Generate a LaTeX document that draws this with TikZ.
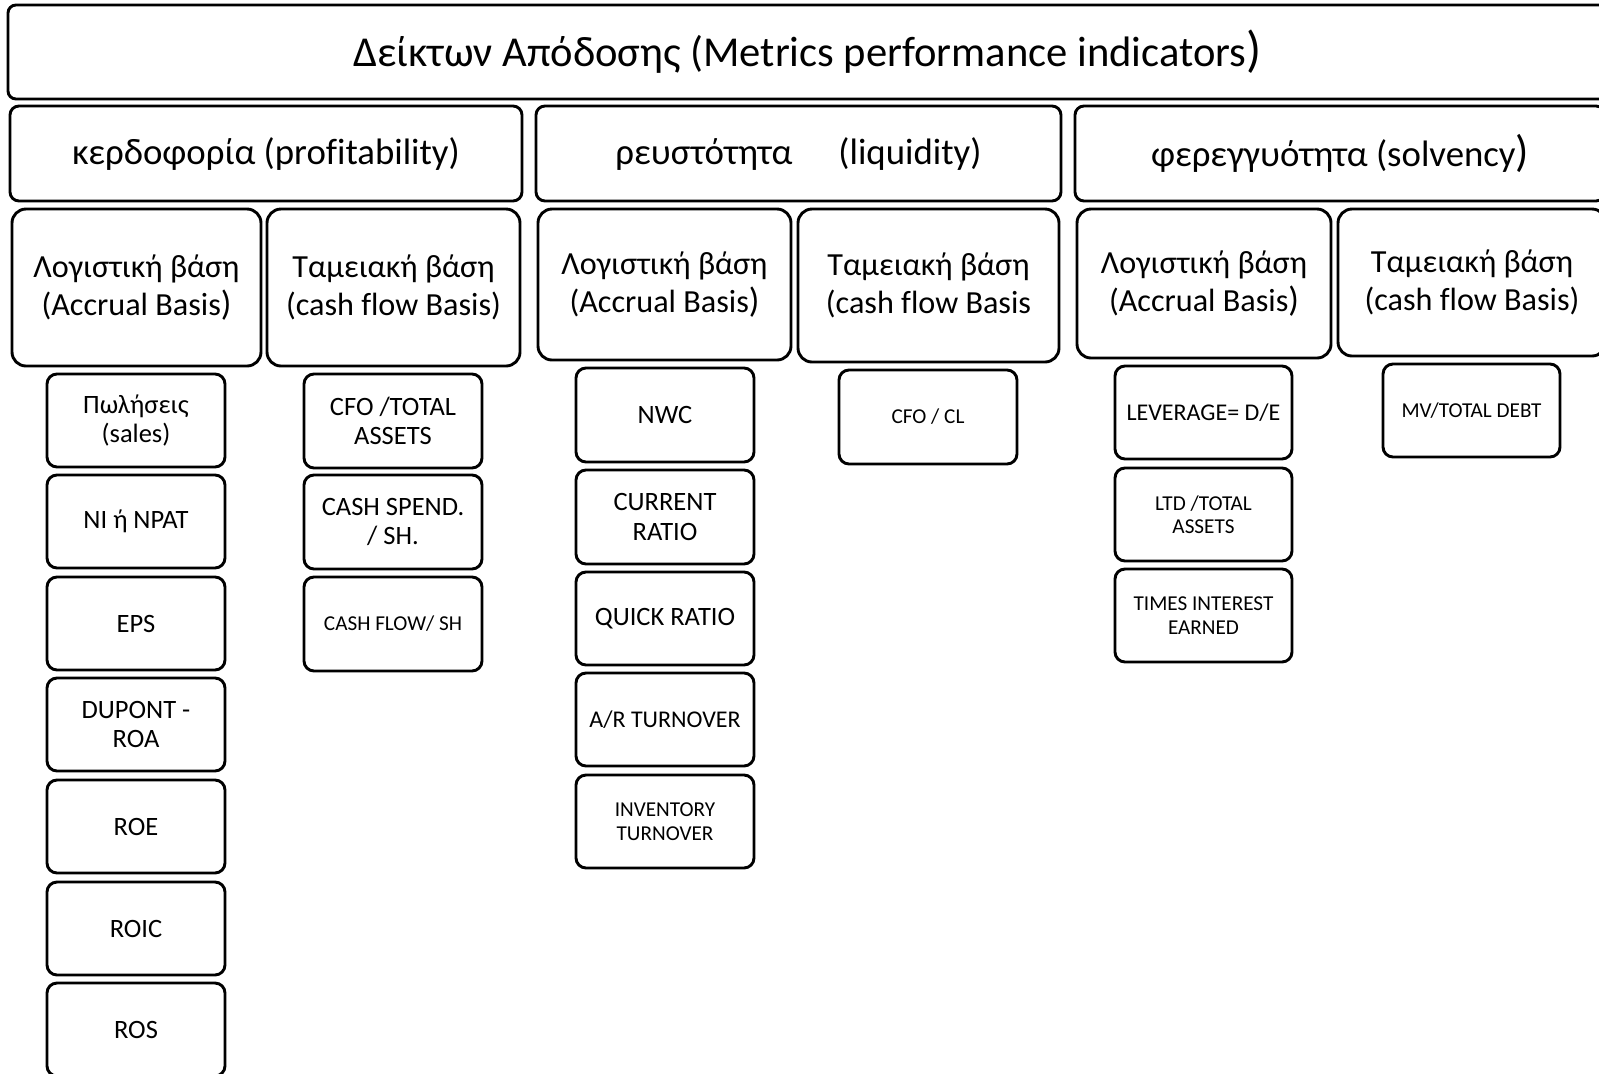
\documentclass[tikz,border=0pt]{standalone}
\usepackage{fontspec}
\setmainfont[Ligatures=NoCommon]{Carlito}
\newcommand\drawbox[7]{%
  \pgfmathsetmacro\bw{(#5-#3)*0.5}%
  \pgfmathsetmacro\bh{(#6-#4)*0.5}%
  \node[#1, minimum width=\bw pt, minimum height=\bh pt] (#2) at ({(#3+#5)/2},{(#4+#6)/2}) {#7};%
}
\newcommand\bigparen[1]{{\fontsize{#1}{#1}\selectfont)}}
\begin{document}
\begin{tikzpicture}[x=0.5pt,y=-0.5pt,
  frame/.style={draw=black, line width=1.45pt, align=center, inner sep=0pt},
  titlebox/.style={frame, rounded corners=4pt, font=\fontsize{21.3}{25}\selectfont},
  headbox/.style={frame, rounded corners=4.5pt, font=\fontsize{18.4}{22}\selectfont},
  subbox/.style={frame, rounded corners=7pt, font=\fontsize{16.1}{18.9}\selectfont},
  leafbox/.style={frame, rounded corners=5pt, font=\fontsize{13.25}{14.8}\selectfont},
  leafmid/.style={frame, rounded corners=5pt, font=\fontsize{12}{13.5}\selectfont},
  leafsmall/.style={frame, rounded corners=5pt, font=\fontsize{10.6}{11.75}\selectfont},
]
\clip (0,0) rectangle (1599,1073);
\fill[white] (0,0) rectangle (1599,1073);

% title
\drawbox{titlebox}{title}{8}{5}{1607}{99}{Δείκτων Απόδοσης (Metrics performance indicators\bigparen{25}}

% headers
\drawbox{headbox}{prof}{10}{106}{522}{201}{κερδοφορία (profitability)}
\drawbox{headbox}{liq}{536}{106}{1061}{201}{ρευστότητα\hspace{23pt}(liquidity)}
\drawbox{headbox}{solv}{1075}{106}{1605}{201}{φερεγγυότητα (solvency\bigparen{22}}

% sub-headers
\drawbox{subbox}{profacc}{12}{209}{261}{366}{Λογιστική βάση\\(Accrual Basis\bigparen{17.5}}
\drawbox{subbox}{profcash}{267}{209}{520}{366}{Ταμειακή βάση\\(cash flow Basis)}
\drawbox{subbox}{liqacc}{538}{209}{791}{360}{Λογιστική βάση\\(Accrual Basis\bigparen{17.5}}
\drawbox{subbox}{liqcash}{798}{209}{1059}{362}{Ταμειακή βάση\\(cash flow Basis}
\drawbox{subbox}{solvacc}{1077}{209}{1331}{358}{Λογιστική βάση\\(Accrual Basis\bigparen{17.5}}
\drawbox{subbox}{solvcash}{1338}{209}{1606}{356}{Ταμειακή βάση\\(cash flow Basis)}

% profitability - accrual
\drawbox{leafbox}{sales}{47}{374}{225}{467}{Πωλήσεις\\(sales)}
\drawbox{leafbox}{ni}{47}{475}{225}{568}{NI ή NPAT}
\drawbox{leafbox}{eps}{47}{577}{225}{670}{EPS}
\drawbox{leafbox}{dupont}{47}{678}{225}{771}{DUPONT -\\ROA}
\drawbox{leafbox}{roe}{47}{780}{225}{873}{ROE}
\drawbox{leafbox}{roic}{47}{882}{225}{975}{ROIC}
\drawbox{leafbox}{ros}{47}{983}{225}{1076}{ROS}

% profitability - cash
\drawbox{leafbox}{cfota}{304}{374}{482}{468}{CFO /TOTAL\\ASSETS}
\drawbox{leafbox}{cashsp}{304}{475}{482}{569}{CASH SPEND.\\/ SH.}
\drawbox{leafsmall}{cfsh}{304}{577}{482}{671}{CASH FLOW/ SH}

% liquidity - accrual
\drawbox{leafbox}{nwc}{576}{368}{754}{462}{NWC}
\drawbox{leafbox}{curr}{576}{470}{754}{564}{CURRENT\\RATIO}
\drawbox{leafbox}{quick}{576}{572}{754}{665}{QUICK RATIO}
\drawbox{leafmid}{ar}{576}{673}{754}{766}{A/R TURNOVER}
\drawbox{leafsmall}{inv}{576}{775}{754}{868}{INVENTORY\\TURNOVER}

% liquidity - cash
\drawbox{leafsmall}{cfocl}{839}{370}{1017}{464}{CFO / CL}

% solvency - accrual
\drawbox{leafmid}{lev}{1115}{366}{1292}{459}{LEVERAGE= D/E}
\drawbox{leafsmall}{ltd}{1115}{468}{1292}{561}{LTD /TOTAL\\ASSETS}
\drawbox{leafsmall}{tie}{1115}{569}{1292}{662}{TIMES INTEREST\\EARNED}

% solvency - cash
\drawbox{leafsmall}{mv}{1383}{364}{1560}{457}{MV/TOTAL DEBT}
\end{tikzpicture}
\end{document}
